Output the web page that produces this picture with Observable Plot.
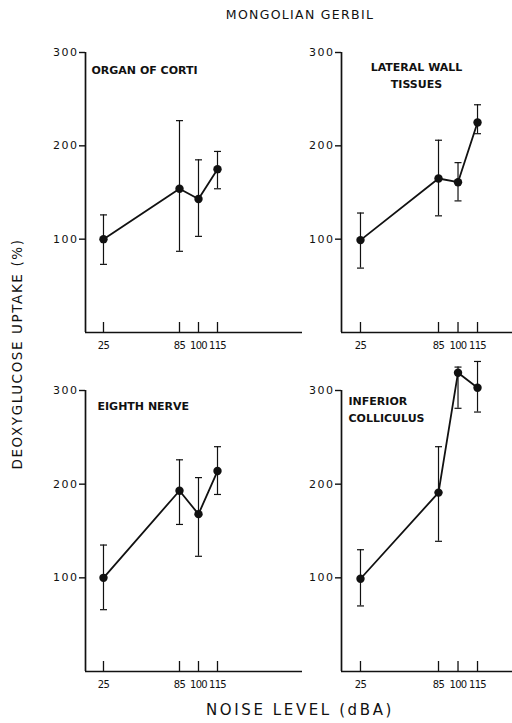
<!DOCTYPE html>
<html><head><meta charset="utf-8">
<script src="https://cdn.jsdelivr.net/npm/d3@7"></script>
<script src="https://cdn.jsdelivr.net/npm/@observablehq/plot@0.6"></script>
<style>
html,body{margin:0;padding:0;background:#fff;overflow:hidden;}
#wrap{position:relative;width:512px;height:723px;font-family:"DejaVu Sans",sans-serif;color:#111;}
.panel{position:absolute;}
.panel svg{overflow:visible;background:transparent;}
.panel g[aria-label="y-axis tick label"] text{letter-spacing:1.5px;}
.panel g[aria-label="x-axis tick label"] text{letter-spacing:-0.7px;}
#title{position:absolute;left:200px;width:200px;top:7px;text-align:center;font-size:12.5px;letter-spacing:1.3px;white-space:nowrap;}
#xlabel{position:absolute;left:150px;width:300px;top:701px;text-align:center;font-size:15px;letter-spacing:2.6px;white-space:nowrap;}
#ylabel{position:absolute;left:17px;top:354px;transform:translate(-50%,-50%) rotate(-90deg);font-size:13.5px;letter-spacing:1.6px;white-space:nowrap;}
</style>
</head><body>
<div id="wrap">
  <div id="title"></div>
  <div id="ylabel"></div>
  <div id="xlabel"></div>
</div>
<script>
// ---- data ----
const chartTitle = "MONGOLIAN GERBIL";
const xTitle = "NOISE LEVEL (dBA)";
const yTitle = "DEOXYGLUCOSE UPTAKE (%)";
const noiseLevels = [25, 85, 100, 115];
const yTicks = [100, 200, 300];
const panelNames = ["ORGAN OF CORTI", "LATERAL WALL\nTISSUES", "EIGHTH NERVE", "INFERIOR\nCOLLICULUS"];

const organOfCortiMean = [100, 154, 143, 175];
const organOfCortiLow  = [73, 87, 103, 154];
const organOfCortiHigh = [126, 227, 185, 194];

const lateralWallMean = [99, 165, 161, 225];
const lateralWallLow  = [69, 125, 141, 213];
const lateralWallHigh = [128, 206, 182, 244];

const eighthNerveMean = [100, 193, 168, 214];
const eighthNerveLow  = [66, 157, 123, 189];
const eighthNerveHigh = [135, 226, 207, 240];

const inferiorColliculusMean = [99, 191, 319, 303];
const inferiorColliculusLow  = [70, 139, 281, 277];
const inferiorColliculusHigh = [130, 240, 325, 331];

// ---- layout ----
document.getElementById("title").textContent = chartTitle;
document.getElementById("xlabel").textContent = xTitle;
document.getElementById("ylabel").textContent = yTitle;

const ink = "#111";
const columns = [
  {left: 0, width: 310, marginLeft: 85, marginRight: 8, domain: [10.8, 182.1]},
  {left: 256, width: 256, marginLeft: 85, marginRight: 0, domain: [10.4, 141.9]}
];
const rows = [
  {top: 12, height: 348},
  {top: 350, height: 349}
];
const labelPlacement = [
  {dx: 6, dy: 10, anchor: "start"},
  {dx: 75, dy: 7, anchor: "middle"},
  {dx: 12, dy: 8, anchor: "start"},
  {dx: 7, dy: 3, anchor: "start"}
];
const cap = {draw(ctx) { ctx.moveTo(-3.5, 0); ctx.lineTo(3.5, 0); }};

const panels = [
  [organOfCortiMean, organOfCortiLow, organOfCortiHigh],
  [lateralWallMean, lateralWallLow, lateralWallHigh],
  [eighthNerveMean, eighthNerveLow, eighthNerveHigh],
  [inferiorColliculusMean, inferiorColliculusLow, inferiorColliculusHigh]
];

panels.forEach(([mean, low, high], i) => {
  const col = columns[i % 2], row = rows[Math.floor(i / 2)];
  const marginTop = 40, marginBottom = 28;
  const frameH = row.height - marginTop - marginBottom;
  const data = noiseLevels.map((x, j) => ({x, mean: mean[j], low: low[j], high: high[j]}));
  const lp = labelPlacement[i];
  const svg = Plot.plot({
    width: col.width,
    height: row.height,
    marginLeft: col.marginLeft,
    marginRight: col.marginRight,
    marginTop, marginBottom,
    style: {background: "transparent", overflow: "visible", fontFamily: "DejaVu Sans, sans-serif", color: ink},
    x: {domain: col.domain, label: null},
    y: {domain: [0, 300], label: null},
    marks: [
      Plot.ruleY([0], {stroke: ink, strokeWidth: 1.7}),
      Plot.ruleX([col.domain[0]], {stroke: ink, strokeWidth: 1.7}),
      Plot.axisY({ticks: yTicks, tickSize: 6, tickPadding: 1, fontSize: 11, stroke: ink, strokeWidth: 1.4, tickFormat: d => String(d)}),
      Plot.axisX({ticks: noiseLevels, tickSize: 0, tickPadding: 9, fontSize: 10, tickFormat: d => String(d)}),
      Plot.tickX(noiseLevels, {x: d => d, insetTop: frameH - 10, stroke: ink, strokeWidth: 1.3}),
      Plot.ruleX(data, {x: "x", y1: "low", y2: "high", stroke: ink, strokeWidth: 1.2}),
      Plot.dot(data, {x: "x", y: "low", symbol: cap, fill: "none", stroke: ink, strokeWidth: 1.2}),
      Plot.dot(data, {x: "x", y: "high", symbol: cap, fill: "none", stroke: ink, strokeWidth: 1.2}),
      Plot.line(data, {x: "x", y: "mean", stroke: ink, strokeWidth: 1.8}),
      Plot.dot(data, {x: "x", y: "mean", r: 4.2, fill: ink, stroke: "none"}),
      Plot.text([panelNames[i]], {text: d => d, frameAnchor: "top-left", dx: lp.dx, dy: lp.dy,
        lineAnchor: "top", textAnchor: lp.anchor, fontSize: 11, fontWeight: "bold", lineHeight: 1.5, fill: ink})
    ]
  });
  const div = document.createElement("div");
  div.className = "panel";
  div.style.left = col.left + "px";
  div.style.top = row.top + "px";
  div.appendChild(svg);
  document.getElementById("wrap").appendChild(div);
});
</script>
</body></html>
